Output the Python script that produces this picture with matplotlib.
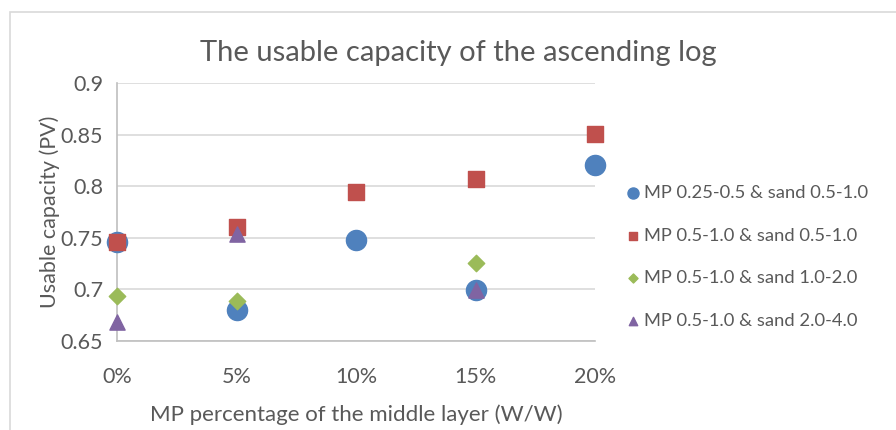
import matplotlib.pyplot as plt
from matplotlib.patches import Rectangle

# Data
x_pct = [0.0, 0.05, 0.10, 0.15, 0.20]
blue_y = [0.746, 0.680, 0.748, 0.699, 0.821]
red_y = [0.746, 0.760, 0.794, 0.807, 0.851]
green_x = [0.0, 0.05, 0.15]
green_y = [0.694, 0.689, 0.726]
purple_x = [0.0, 0.05, 0.15]
purple_y = [0.668, 0.754, 0.699]

labels = ["MP 0.25-0.5 & sand 0.5-1.0",
          "MP 0.5-1.0 & sand 0.5-1.0",
          "MP 0.5-1.0 & sand 1.0-2.0",
          "MP 0.5-1.0 & sand 2.0-4.0"]
y_ticks = [0.65, 0.7, 0.75, 0.8, 0.85, 0.9]
y_tick_labels = ["0.65", "0.7", "0.75", "0.8", "0.85", "0.9"]
x_tick_labels = ["0%", "5%", "10%", "15%", "20%"]

plt.rcParams['font.family'] = ['Lato', 'DejaVu Sans']
txt = '#595959'

fig = plt.figure(figsize=(8.96, 4.30), dpi=100)
ax = fig.add_axes([117 / 896, 1 - 341 / 430, (595 - 117) / 896, (341 - 83) / 430])

# chart border
fig.patches.append(Rectangle((10 / 896, -0.1), 1.2, 1 - 12 / 430 + 0.1,
                             transform=fig.transFigure, fill=False,
                             edgecolor='#D9D9D9', lw=1.2))

ax.scatter(x_pct, blue_y, s=210, marker='o', color='#4F81BD', label=labels[0], zorder=3)
ax.scatter(x_pct, red_y, s=130, marker='s', color='#C0504D', label=labels[1], zorder=4)
ax.scatter(green_x, green_y, s=70, marker='D', color='#9BBB59', label=labels[2], zorder=5)
ax.scatter(purple_x, purple_y, s=120, marker='^', color='#8064A2', label=labels[3], zorder=6)

ax.set_xlim(0, 0.2)
ax.set_ylim(0.65, 0.9)
ax.set_xticks(x_pct)
ax.set_xticklabels(x_tick_labels)
ax.set_yticks(y_ticks)
ax.set_yticklabels(y_tick_labels)
ax.tick_params(length=0, labelsize=15.5, colors=txt, pad=10)
ax.tick_params(axis='x', pad=19)
ax.grid(axis='y', color='#D9D9D9', lw=1.2)
ax.set_axisbelow(True)
for side in ['top', 'right']:
    ax.spines[side].set_visible(False)
for side in ['left', 'bottom']:
    ax.spines[side].set_color('#BFBFBF')
    ax.spines[side].set_linewidth(1.2)
for coll in ax.collections:
    coll.set_clip_on(False)

fig.text(458 / 896, 1 - 53 / 430, "The usable capacity of the ascending log",
         fontsize=21, color=txt, ha='center', va='center')
ax.set_xlabel("MP percentage of the middle layer (W/W)", fontsize=16, color=txt, labelpad=12)
ax.set_ylabel("Usable capacity (PV)", fontsize=15.5, color=txt, labelpad=0)

leg = fig.legend(loc='center left', bbox_to_anchor=(0.678, 1 - 257 / 430), frameon=False,
                 fontsize=13.2, labelcolor=txt, handletextpad=0.1, labelspacing=1.45,
                 markerscale=0.55, handlelength=1.0)

fig.savefig("out.png", dpi=100)
